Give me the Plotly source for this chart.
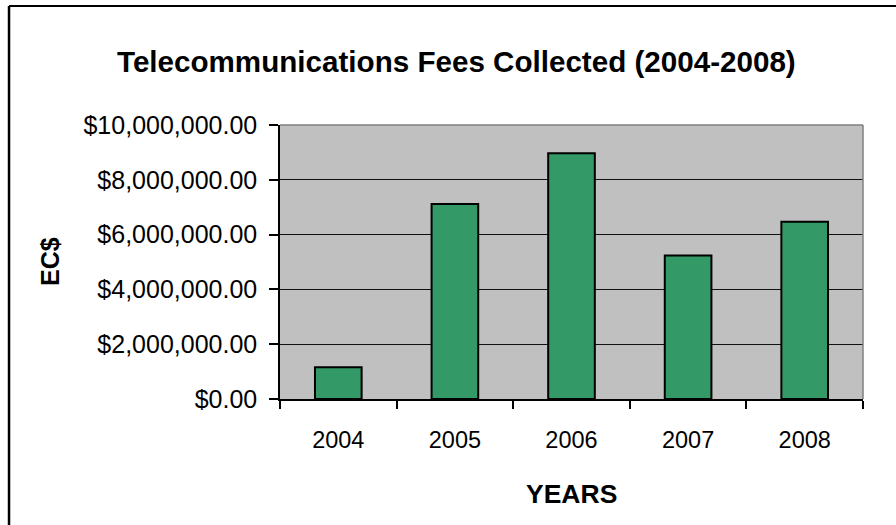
import plotly.graph_objects as go

years = ["2004", "2005", "2006", "2007", "2008"]
fees = [1160000, 7120000, 8970000, 5240000, 6470000]
y_ticks = [0, 2000000, 4000000, 6000000, 8000000, 10000000]

title_text = "Telecommunications Fees Collected (2004-2008)"
x_title = "YEARS"
y_title = "EC$"

FONT = "Liberation Sans, Arial, sans-serif"

fig = go.Figure(
    go.Bar(
        x=years,
        y=fees,
        marker=dict(color="#339966", line=dict(color="black", width=2)),
    )
)

fig.update_layout(
    width=896,
    height=525,
    margin=dict(l=280, r=33, t=125, b=126),
    paper_bgcolor="white",
    plot_bgcolor="#C0C0C0",
    bargap=0.6,
    showlegend=False,
    font=dict(family=FONT, color="black", size=22),
    annotations=[
        dict(text="<b>" + title_text + "</b>", xref="paper", yref="paper",
             x=0.302, y=1.230, showarrow=False, font=dict(size=29.6),
             xanchor="center", yanchor="middle"),
        dict(text="<b>" + y_title + "</b>", xref="paper", yref="paper",
             x=-0.3945, y=0.5, showarrow=False, textangle=-90, font=dict(size=25),
             xanchor="center", yanchor="middle"),
        dict(text="<b>" + x_title + "</b>", xref="paper", yref="paper",
             x=0.5, y=-0.347, showarrow=False, font=dict(size=26.5),
             xanchor="center", yanchor="middle"),
    ],
    shapes=[
        # outer chart border (top and left visible)
        dict(type="line", xref="paper", yref="paper", x0=-0.4648, x1=1.08,
             y0=1.434, y1=1.434, line=dict(color="black", width=2)),
        dict(type="line", xref="paper", yref="paper", x0=-0.4648, x1=-0.4648,
             y0=1.434, y1=-0.5, line=dict(color="black", width=2.5)),
        # plot area border top and right
        dict(type="line", xref="paper", yref="paper", x0=0, x1=1, y0=1, y1=1,
             line=dict(color="#808080", width=1.5), layer="above"),
        dict(type="line", xref="paper", yref="paper", x0=1, x1=1, y0=0, y1=1,
             line=dict(color="#808080", width=1.5), layer="above"),
    ],
)

fig.update_xaxes(
    showline=True, linecolor="black", linewidth=1.5,
    ticks="outside", tickson="boundaries", ticklen=8, tickcolor="black", tickwidth=1.5,
    ticklabelstandoff=19,
    showgrid=False,
    tickfont=dict(size=23.5),
)
fig.update_yaxes(
    range=[0, 10000000],
    tickvals=y_ticks,
    tickformat="$,.2f",
    showline=True, linecolor="black", linewidth=1.5,
    ticks="outside", ticklen=9, tickcolor="black", tickwidth=1.5,
    ticklabelstandoff=7,
    showgrid=True, gridcolor="#111111", gridwidth=1,
    zeroline=False,
    tickfont=dict(size=25),
)

fig.write_html(
    "out.html",
    config={"displayModeBar": False},
    post_script="document.body.style.margin='0';document.body.style.padding='0';",
)
